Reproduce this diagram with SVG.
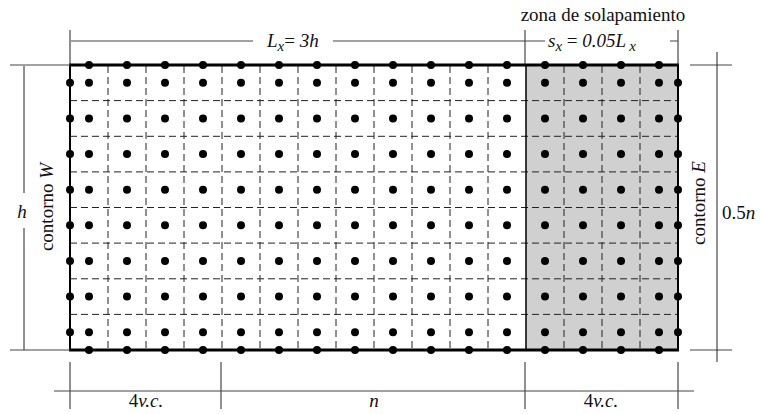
<svg xmlns="http://www.w3.org/2000/svg" xmlns:xlink="http://www.w3.org/1999/xlink" width="762" height="414" viewBox="0 0 762 414">
<style>
text{font-family:'Liberation Serif',Tinos,'Times New Roman','DejaVu Serif',serif;font-size:19px;fill:#111}
.it{font-style:italic}
.dim{stroke:#444;stroke-width:1;fill:none}
.ext{stroke:#222;stroke-width:1;fill:none}
.dash{stroke:#222;stroke-width:1;stroke-dasharray:7 4;fill:none}
.bd{stroke:#000;fill:none}
.dot{fill:#000}
</style>
<defs>
<g id="row">
<circle class="dot" cx="89" cy="0" r="4"/><circle class="dot" cx="127" cy="0" r="4"/><circle class="dot" cx="165" cy="0" r="4"/><circle class="dot" cx="203" cy="0" r="4"/>
<circle class="dot" cx="241" cy="0" r="4"/><circle class="dot" cx="279" cy="0" r="4"/><circle class="dot" cx="317" cy="0" r="4"/><circle class="dot" cx="355" cy="0" r="4"/>
<circle class="dot" cx="393" cy="0" r="4"/><circle class="dot" cx="431" cy="0" r="4"/><circle class="dot" cx="469" cy="0" r="4"/><circle class="dot" cx="507" cy="0" r="4"/>
<circle class="dot" cx="545" cy="0" r="4"/><circle class="dot" cx="583" cy="0" r="4"/><circle class="dot" cx="621" cy="0" r="4"/><circle class="dot" cx="659" cy="0" r="4"/>
</g>
<g id="col">
<circle class="dot" cx="0" cy="82.8" r="4"/><circle class="dot" cx="0" cy="118.4" r="4"/><circle class="dot" cx="0" cy="154.1" r="4"/><circle class="dot" cx="0" cy="189.7" r="4"/>
<circle class="dot" cx="0" cy="225.3" r="4"/><circle class="dot" cx="0" cy="260.9" r="4"/><circle class="dot" cx="0" cy="296.6" r="4"/><circle class="dot" cx="0" cy="332.2" r="4"/>
</g>
</defs>
<rect width="762" height="414" fill="#fff"/>

<g id="domain">
<rect x="526" y="65" width="152" height="285" fill="#d0d0d0"/>
<g id="grid">
<path class="dash" d="M108,66V350M146,66V350M184,66V350M222,66V350M260,66V350M298,66V350M336,66V350M374,66V350M412,66V350M450,66V350M488,66V350M564,66V350M602,66V350M640,66V350"/>
<path class="dash" d="M70,100.6H678M70,136.3H678M70,171.9H678M70,207.5H678M70,243.1H678M70,278.8H678M70,314.4H678"/>
</g>
<line class="bd" x1="526" y1="65" x2="526" y2="350" stroke-width="1.5"/>
<line class="bd" x1="69" y1="65" x2="679" y2="65" stroke-width="3"/>
<line class="bd" x1="69" y1="350" x2="679" y2="350" stroke-width="3"/>
<line class="bd" x1="70" y1="65" x2="70" y2="350" stroke-width="2"/>
<line class="bd" x1="678" y1="65" x2="678" y2="350" stroke-width="2"/>
</g>

<g id="nodes">
<use xlink:href="#row" href="#row" y="65"/>
<use xlink:href="#row" href="#row" y="82.8"/>
<use xlink:href="#row" href="#row" y="118.4"/>
<use xlink:href="#row" href="#row" y="154.1"/>
<use xlink:href="#row" href="#row" y="189.7"/>
<use xlink:href="#row" href="#row" y="225.3"/>
<use xlink:href="#row" href="#row" y="260.9"/>
<use xlink:href="#row" href="#row" y="296.6"/>
<use xlink:href="#row" href="#row" y="332.2"/>
<use xlink:href="#row" href="#row" y="350"/>
<use xlink:href="#col" href="#col" x="70"/>
<use xlink:href="#col" href="#col" x="678"/>
</g>

<g id="dim-top">
<path class="ext" d="M70,30V65M525,30V65M678,30V65"/>
<path class="dim" d="M71,41H253M333,41H545M670,41H678"/>
<text x="267" y="47"><tspan class="it">L</tspan><tspan class="it" font-size="15" dy="4">x</tspan><tspan dy="-4">= </tspan><tspan class="it">3h</tspan></text>
<text x="548" y="47"><tspan class="it">s</tspan><tspan class="it" font-size="15" dy="4">x</tspan><tspan dy="-4"> = </tspan><tspan class="it">0.05L</tspan><tspan class="it" font-size="15" dx="3" dy="4">x</tspan></text>
<text x="603" y="21" text-anchor="middle">zona de solapamiento</text>
</g>

<g id="dim-left">
<path class="dim" d="M10,65H70M10,350H70"/>
<path class="ext" d="M24,66V193M24,228V350"/>
<text class="it" x="22" y="218" text-anchor="middle">h</text>
<text x="0" y="0" transform="translate(53,207) rotate(-90)" text-anchor="middle">contorno <tspan class="it">W</tspan></text>
</g>

<g id="dim-right">
<path class="dim" d="M690,65H732M690,350H732"/>
<path class="ext" d="M717,52V362"/>
<text x="722" y="219">0.5<tspan class="it">n</tspan></text>
<text x="0" y="0" transform="translate(705,203) rotate(-90)" text-anchor="middle">contorno <tspan class="it">E</tspan></text>
</g>

<g id="dim-bottom">
<path class="ext" d="M70,362V409M221,362V409M525,362V409M678,362V409"/>
<path class="dim" d="M54,391H694"/>
<text x="146" y="407" text-anchor="middle">4<tspan class="it">v.c.</tspan></text>
<text class="it" x="374" y="407" text-anchor="middle">n</text>
<text x="601" y="407" text-anchor="middle">4<tspan class="it">v.c.</tspan></text>
</g>
</svg>
